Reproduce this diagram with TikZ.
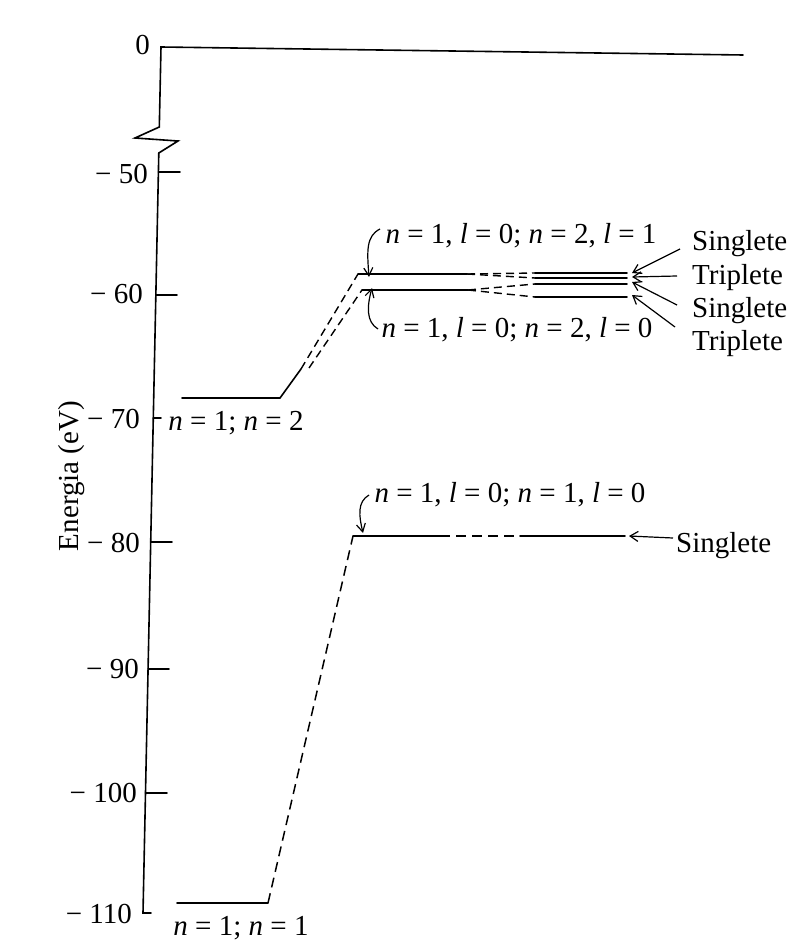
\documentclass[tikz,border=0pt]{standalone}
\usepackage{fontspec}
\setmainfont{Liberation Serif}
\usetikzlibrary{arrows.meta}
\newcommand{\iv}[1]{\textit{#1}}
\begin{document}
\begin{tikzpicture}[x=1pt,y=-1pt,
  ln/.style={line width=1.6pt, line cap=round},
  dsh/.style={line width=1.5pt, dash pattern=on 10pt off 6pt},
  sdsh/.style={line width=1.4pt, dash pattern=on 8pt off 5pt},
  arr/.style={line width=1.2pt,-{Straight Barb[length=8pt,width=10pt]}},
  carr/.style={line width=1.2pt,-{Straight Barb[length=8pt,width=9pt]}},
  tick/.style={inner sep=0pt, anchor=base east, font=\fontsize{29}{33}\selectfont},
  mlab/.style={inner sep=0pt, anchor=base, font=\fontsize{29}{33}\selectfont},
  tlab/.style={inner sep=0pt, anchor=base west, font=\fontsize{29}{33}\selectfont},
]
\fill[white] (0,0) rectangle (805,944);
\useasboundingbox (0,0) rectangle (805,944);

% axis
\coordinate (top) at (161,47);
\coordinate (topEnd) at (743,55);
\coordinate (brkA) at (159.3,127);
\coordinate (brkL) at (135,138);
\coordinate (brkR) at (178,141);
\coordinate (brkB) at (158.8,153);
\coordinate (bot) at (143,913);
\coordinate (botTick) at (151,913);
\draw[ln, line join=miter] (botTick) -- (bot) -- (brkB) -- (brkR) -- (brkL) -- (brkA) -- (top) -- (topEnd);

% ticks
\coordinate (t50a) at (158.4,172); \coordinate (t50b) at (180,172);
\coordinate (t60a) at (155.8,295); \coordinate (t60b) at (177,295);
\coordinate (t70a) at (153.3,418); \coordinate (t70b) at (161,418);
\coordinate (t80a) at (150.7,542); \coordinate (t80b) at (172,542);
\coordinate (t90a) at (148.1,669); \coordinate (t90b) at (169,669);
\coordinate (t100a) at (145.5,793); \coordinate (t100b) at (167,793);
\draw[ln] (t50a) -- (t50b);
\draw[ln] (t60a) -- (t60b);
\draw[ln] (t70a) -- (t70b);
\draw[ln] (t80a) -- (t80b);
\draw[ln] (t90a) -- (t90b);
\draw[ln] (t100a) -- (t100b);

% tick labels
\node[tick] (l0) at (150,55) {0};
\node[tick] (l50) at (148,183) {− 50};
\node[tick] (l60) at (143,303) {− 60};
\node[tick] (l70) at (140,428) {− 70};
\node[tick] (l80) at (140,552) {− 80};
\node[tick] (l90) at (139,678) {− 90};
\node[tick] (l100) at (137,802) {− 100};
\node[tick] (l110) at (132,923) {− 110};

\node[rotate=90, inner sep=0pt, font=\fontsize{29}{33}\selectfont] (ylab) at (72,476) {Energia (eV)};

% level n=1;n=1
\coordinate (p0) at (177,903);
\coordinate (p1) at (268,903);
\draw[ln] (p0) -- (p1);
\node[mlab] (lab11) at (241,935) {\iv{n} = 1; \iv{n} = 1};

% level -80
\coordinate (q0) at (353,536);
\coordinate (q1) at (440,536);
\coordinate (q2) at (520,536);
\coordinate (q3) at (625,536);
\draw[dsh] (p1) -- (q0);
\draw[ln] (q0) -- (q1);
\draw[dsh] (q1) -- (q2);
\draw[ln] (q2) -- (q3);
\node[mlab] (lab80) at (510,502) {\iv{n} = 1, \iv{l} = 0; \iv{n} = 1, \iv{l} = 0};
\node[tlab] (sg0) at (676,552) {Singlete};
\coordinate (sg0a) at (673,538);
\draw[arr] (sg0a) -- ([xshift=4pt]q3);
\coordinate (c80) at (369,495);
\draw[carr] (c80) .. controls (357,502) and (359,516) .. ([xshift=10pt,yshift=3pt]q0);

% level n=1;n=2
\coordinate (k0) at (182,398);
\coordinate (k1) at (280,398);
\coordinate (k2) at (301,369);
\coordinate (k3) at (309,368);
\draw[ln] (k0) -- (k1) -- (k2);
\node[mlab] (lab12) at (236,430) {\iv{n} = 1; \iv{n} = 2};

% -60 group
\coordinate (u0) at (358,274);
\coordinate (u1) at (467,274);
\coordinate (w0) at (362,290);
\coordinate (w1) at (468,290);
\coordinate (a1) at (535,273); \coordinate (b1) at (627,273);
\coordinate (a2) at (535,278); \coordinate (b2) at (627,278);
\coordinate (a3) at (535,284); \coordinate (b3) at (627,284);
\coordinate (a4) at (535,297); \coordinate (b4) at (627,297);
\draw[sdsh] (k2) -- (u0);
\draw[sdsh] (k3) -- (w0);
\draw[ln] (u0) -- (u1);
\draw[ln] (w0) -- (w1);
\draw[sdsh] (u1) -- (a1);
\draw[sdsh] (u1) -- (a2);
\draw[sdsh] (w1) -- (a3);
\draw[sdsh] (w1) -- (a4);
\draw[ln] (a1) -- (b1);
\draw[ln] (a2) -- (b2);
\draw[ln] (a3) -- (b3);
\draw[ln] (a4) -- (b4);

\node[mlab] (labA) at (521,243) {\iv{n} = 1, \iv{l} = 0; \iv{n} = 2, \iv{l} = 1};
\node[mlab] (labB) at (517,337) {\iv{n} = 1, \iv{l} = 0; \iv{n} = 2, \iv{l} = 0};
\coordinate (cA) at (380,229);
\coordinate (cB) at (378,329);
\draw[carr] (cA) .. controls (366,236) and (367,251) .. ([xshift=11pt,yshift=-3pt]u0);
\draw[carr] (cB) .. controls (366,322) and (367,306) .. ([xshift=10pt,yshift=2pt]w0);

\node[tlab] (s1) at (692,250) {Singlete};
\node[tlab] (t1) at (692,284) {Triplete};
\node[tlab] (s2) at (692,317) {Singlete};
\node[tlab] (t2) at (692,350) {Triplete};
\coordinate (s1a) at (680,249);
\coordinate (t1a) at (677,276);
\coordinate (s2a) at (677,305);
\coordinate (t2a) at (675,327);
\draw[arr] (s1a) -- ([xshift=5pt]b1);
\draw[arr] (t1a) -- ([xshift=5pt,yshift=1pt]b2);
\draw[arr] (s2a) -- ([xshift=5pt,yshift=2pt]b3);
\draw[arr] (t2a) -- ([xshift=5pt,yshift=2pt]b4);
\end{tikzpicture}
\end{document}
